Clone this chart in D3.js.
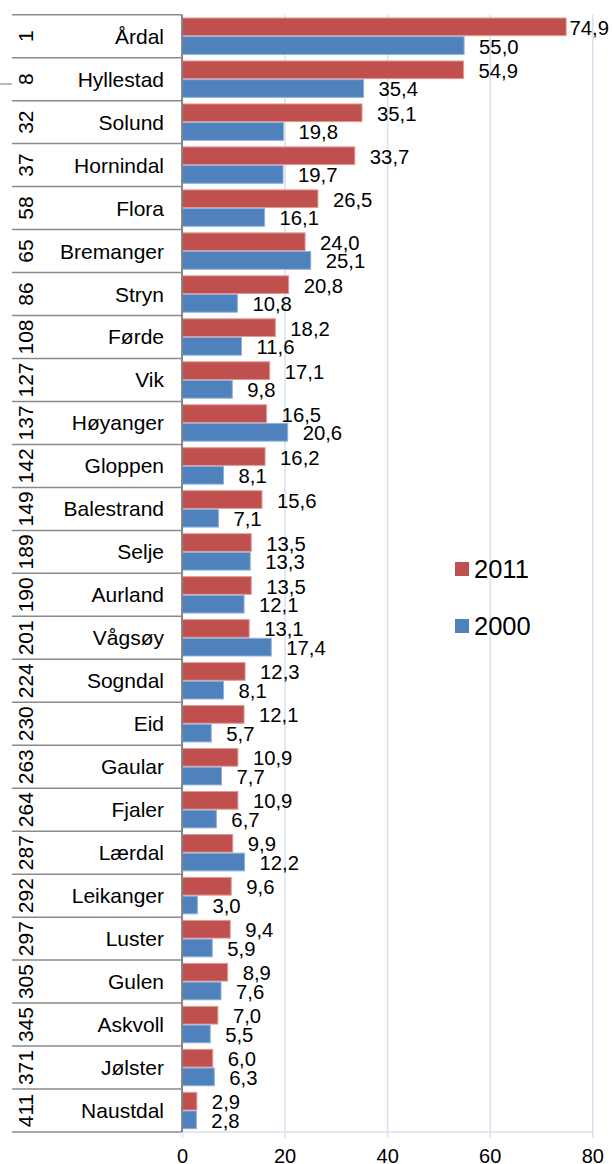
<!DOCTYPE html>
<html>
<head>
<meta charset="utf-8">
<script src="https://cdn.jsdelivr.net/npm/d3@7"></script>
<style>
  body { margin: 0; background: #fff; }
  svg { display: block; font-family: "Liberation Sans", Arial, sans-serif; }
</style>
</head>
<body>
<script>
"use strict";

const kommuner = ["Årdal", "Hyllestad", "Solund", "Hornindal", "Flora", "Bremanger", "Stryn", "Førde", "Vik", "Høyanger",
    "Gloppen", "Balestrand", "Selje", "Aurland", "Vågsøy", "Sogndal", "Eid", "Gaular", "Fjaler", "Lærdal",
    "Leikanger", "Luster", "Gulen", "Askvoll", "Jølster", "Naustdal"]
const rangering = [1, 8, 32, 37, 58, 65, 86, 108, 127, 137, 142, 149, 189, 190, 201, 224, 230, 263, 264, 287,
    292, 297, 305, 345, 371, 411]
const verdier2011 = [74.9, 54.9, 35.1, 33.7, 26.5, 24.0, 20.8, 18.2, 17.1, 16.5, 16.2, 15.6, 13.5, 13.5, 13.1,
    12.3, 12.1, 10.9, 10.9, 9.9, 9.6, 9.4, 8.9, 7.0, 6.0, 2.9]
const verdier2000 = [55.0, 35.4, 19.8, 19.7, 16.1, 25.1, 10.8, 11.6, 9.8, 20.6, 8.1, 7.1, 13.3, 12.1, 17.4,
    8.1, 5.7, 7.7, 6.7, 12.2, 3.0, 5.9, 7.6, 5.5, 6.3, 2.8]
const serier = ["2011", "2000"]
const xTicks = [0, 20, 40, 60, 80]

const colors = { "2011": "#C0504D", "2000": "#4F81BD" }
const strokes = { "2011": "#e29a98", "2000": "#8fb0d9" }

const measurements = {
    width: 613,
    height: 1164,
    left: 182,
    right: 592.3,
    top: 14.7,
    bottom: 1132
}

const data = kommuner.map((k, i) => ({
    name: k,
    rank: rangering[i],
    "2011": verdier2011[i],
    "2000": verdier2000[i]
}))

const svg = d3.select("body").append("svg")
    .attr("width", measurements.width)
    .attr("height", measurements.height)

const scaleX = d3.scaleLinear()
    .domain([0, 80])
    .range([measurements.left, measurements.right])

const scaleY = d3.scaleBand()
    .domain(kommuner)
    .range([measurements.top, measurements.bottom])
    .paddingInner(0.13)
    .paddingOuter(0.065)

const rowY = d3.scaleBand()
    .domain(kommuner)
    .range([measurements.top, measurements.bottom])

const inner = d3.scaleBand()
    .domain(serier)
    .range([0, scaleY.bandwidth()])

// gridlines + ticks
const xAxis = d3.axisBottom(scaleX)
    .tickValues(xTicks)
    .tickSize(measurements.bottom - measurements.top + 6)
    .tickFormat(d => d)

const gx = svg.append("g")
    .attr("transform", "translate(0," + measurements.top + ")")
    .call(xAxis)
gx.select(".domain").remove()
gx.selectAll(".tick line")
    .attr("stroke", "#d7e1f0")
    .attr("stroke-width", 1.5)
gx.selectAll(".tick text")
    .attr("y", 0)
    .attr("dy", 0)
    .attr("transform", "translate(0," + (1163 - measurements.top) + ")")
    .attr("font-size", 20)
    .attr("fill", "#000")
    .attr("font-family", "Liberation Sans, Arial, sans-serif")

svg.append("line")
    .attr("x1", measurements.left).attr("x2", measurements.right)
    .attr("y1", measurements.bottom).attr("y2", measurements.bottom)
    .attr("stroke", "#d7e1f0")
    .attr("stroke-width", 1.5)

// bars
const groups = svg.selectAll(".grp")
    .data(data)
    .enter()
    .append("g")
    .attr("transform", d => "translate(0," + scaleY(d.name) + ")")

serier.forEach(s => {
    groups.append("rect")
        .attr("x", scaleX(0))
        .attr("y", inner(s) + 0.5)
        .attr("width", d => scaleX(d[s]) - scaleX(0))
        .attr("height", inner.bandwidth() - 1)
        .attr("fill", colors[s])
        .attr("stroke", strokes[s])
        .attr("stroke-width", 1)

    groups.append("text")
        .attr("y", inner(s) + inner.bandwidth() / 2 + 8)
        .attr("font-size", 20.3)
        .text(d => d[s].toFixed(1).replace(".", ","))
        .each(function(d) {
            const w = this.getComputedTextLength()
            const x = Math.min(scaleX(d[s]) + 15, measurements.width - w - 4)
            d3.select(this).attr("x", x)
        })
})

// left table
const tableLines = [measurements.top].concat(kommuner.map(k => rowY(k) + rowY.bandwidth()))
svg.selectAll(".rowline")
    .data(tableLines)
    .enter()
    .append("line")
    .attr("x1", 12).attr("x2", measurements.left)
    .attr("y1", d => d).attr("y2", d => d)
    .attr("stroke", "#8a8a8a")
    .attr("stroke-width", 1.5)

svg.append("line")
    .attr("x1", 0).attr("x2", 12)
    .attr("y1", 84).attr("y2", 84)
    .attr("stroke", "#8a8a8a")
    .attr("stroke-width", 1.2)

svg.selectAll(".name")
    .data(data)
    .enter()
    .append("text")
    .attr("x", 164)
    .attr("y", d => rowY(d.name) + rowY.bandwidth() / 2 + 7.5)
    .attr("text-anchor", "end")
    .attr("font-size", 21)
    .text(d => d.name)

svg.selectAll(".rank")
    .data(data)
    .enter()
    .append("text")
    .attr("text-anchor", "middle")
    .attr("font-size", 21)
    .attr("transform", d => "translate(33," + (rowY(d.name) + rowY.bandwidth() / 2) + ")rotate(-90)")
    .text(d => d.rank)

// left axis line
svg.append("line")
    .attr("x1", measurements.left).attr("x2", measurements.left)
    .attr("y1", measurements.top).attr("y2", measurements.bottom)
    .attr("stroke", "#878787")
    .attr("stroke-width", 2)

// legend
const legend = svg.append("g")
serier.forEach((s, i) => {
    const y = 562 + i * 57
    legend.append("rect")
        .attr("x", 455).attr("y", y)
        .attr("width", 14).attr("height", 14)
        .attr("fill", colors[s])
    legend.append("text")
        .attr("x", 474).attr("y", y + 16)
        .attr("font-size", 25.5)
        .text(s)
})
</script>
</body>
</html>
